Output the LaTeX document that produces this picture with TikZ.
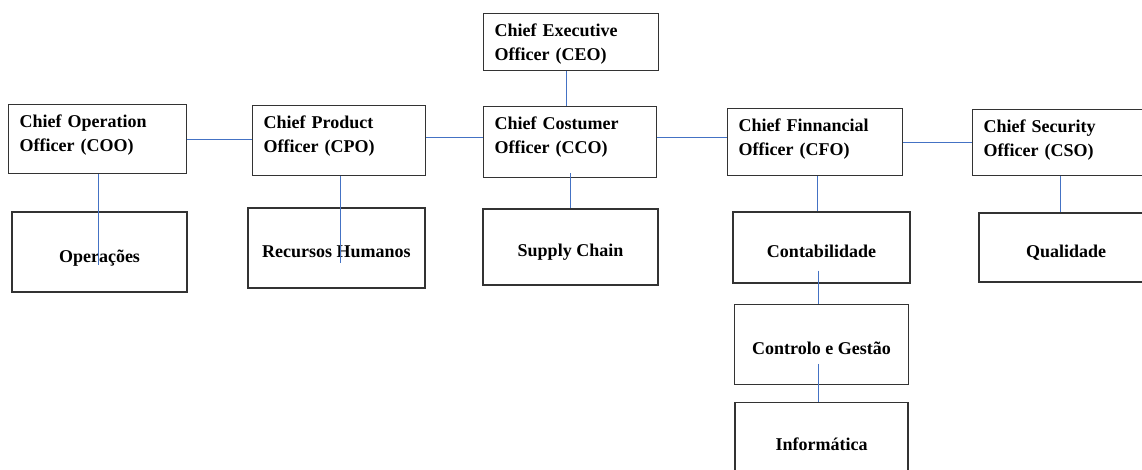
\documentclass[tikz,border=0pt]{standalone}
\usepackage{fontspec}
\setmainfont{Liberation Serif}
\usepackage{xcolor}
\usetikzlibrary{positioning}

\definecolor{linkblue}{RGB}{68,114,196}

\tikzset{
  chief/.style={draw=black!80, line width=1.3pt, anchor=north west, align=left,
    text width=153pt, inner xsep=11pt, inner ysep=0pt, text height=23pt},
  dept/.style={draw=black!80, line width=1.3pt, minimum width=175pt,
    minimum height=#1, inner sep=0pt, text height=24pt, text depth=4pt},
  dept/.default=80pt,
  link/.style={draw=linkblue, line width=0.9pt}
}

\begin{document}
\begin{tikzpicture}[x=1pt, y=-1pt, font=\bfseries\fontsize{18}{24}\selectfont]
\path[use as bounding box, clip] (0,0) rectangle (1142,470);
\fill[white] (0,0) rectangle (1142,470);

% the chiefs
\node[chief, text depth=34pt] (ceo) at (483,13) {Chief Executive\\Officer (CEO)};
\node[chief, text width=156pt, text depth=46pt] (coo) at (8,104) {Chief Operation\\Officer (COO)};
\node[chief, text width=151pt, text depth=47pt] (cpo) at (252,105) {Chief Product\\Officer (CPO)};
\node[chief, text width=151pt, text depth=48pt] (cco) at (483,106) {Chief Costumer\\Officer (CCO)};
\node[chief, text depth=44pt] (cfo) at (727,108) {Chief Finnancial\\Officer (CFO)};
\node[chief, text depth=43pt] (cso) at (972,109) {Chief Security\\Officer (CSO)};

% departments
\node[dept] (ops) at (99.5,252) {Operações};
\node[dept, minimum width=177pt] (rh) at (336.5,248) {Recursos Humanos};
\node[dept=76pt] (supply) at (570.5,247) {Supply Chain};
\node[dept=71pt, minimum width=177pt] (cont) at (821.5,247.5) {Contabilidade};
\node[dept, minimum width=174pt, below=20pt of cont] (ctrl) {Controlo e Gestão};
\node[dept=75pt, minimum width=173pt, below=17pt of ctrl] (info) {Informática};
\node[dept=69pt, minimum width=174pt] (qual) at (1066,247.5) {Qualidade};

% links
\draw[link] (coo.east) -- (coo.east -| cpo.west);
\draw[link] ([yshift=3pt]cpo.east) -- ([yshift=3pt]cpo.east -| cco.west);
\draw[link] ([yshift=4.5pt]cco.east) -- ([yshift=4.5pt]cco.east -| cfo.west);
\draw[link] (cfo.east) -- (cfo.east -| cso.west);
\draw[link] ([xshift=-4.5pt]ceo.south) -- ([xshift=-4.5pt]ceo.south |- cco.north);

\draw[link] ([xshift=1pt]coo.south) -- ([xshift=1pt,yshift=-13pt]coo.south |- ops.center);
\draw[link] ([xshift=1.5pt]cpo.south) -- ([xshift=1.5pt,yshift=-15pt]cpo.south |- rh.center);
\draw[link] ([yshift=5pt]cco.south) -- (cco.south |- supply.north);
\draw[link] ([xshift=2.5pt]cfo.south) -- ([xshift=2.5pt]cfo.south |- cont.north);
\draw[link] ([xshift=-3.5pt,yshift=13pt]cont.south) -- ([xshift=-3.5pt]cont.south |- ctrl.north);
\draw[link] ([xshift=-3pt,yshift=21pt]ctrl.south) -- ([xshift=-3pt]ctrl.south |- info.north);
\draw[link] (cso.south) -- (cso.south |- qual.north);
\end{tikzpicture}
\end{document}
